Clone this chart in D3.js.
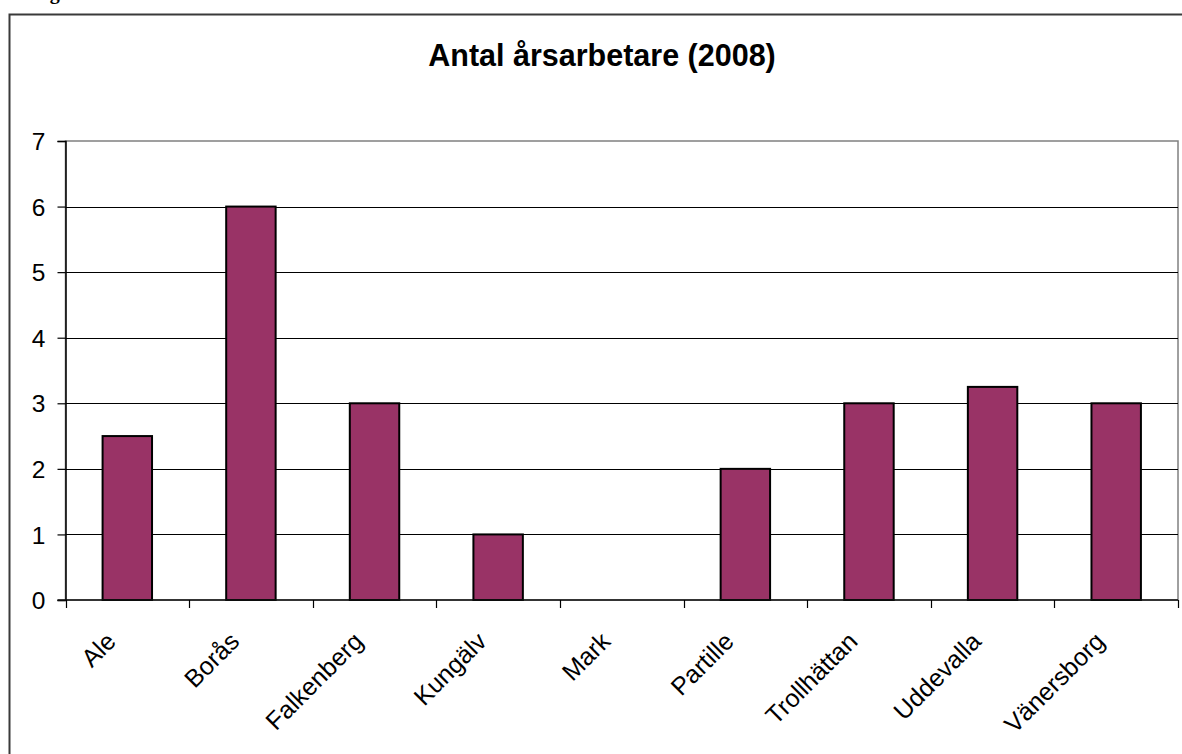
<!DOCTYPE html>
<html>
<head>
<meta charset="utf-8">
<script src="https://cdn.jsdelivr.net/npm/d3@7"></script>
<style>
  html, body { margin: 0; padding: 0; background: #fff; }
  svg { display: block; }
</style>
</head>
<body>
<svg id="chart" width="1182" height="754"></svg>
<script>
const title = "Antal årsarbetare (2008)";
const categories = ["Ale", "Borås", "Falkenberg", "Kungälv", "Mark", "Partille", "Trollhättan", "Uddevalla", "Vänersborg"];
const values = [2.5, 6, 3, 1, 0, 2, 3, 3.25, 3];
const yTicks = [0, 1, 2, 3, 4, 5, 6, 7];

const svg = d3.select("#chart");
const plot = { left: 65.5, right: 1178, top: 141, bottom: 600 };

// partial caption cut at top of page (as in the reference)
svg.append("text")
  .attr("x", 32).attr("y", -1)
  .attr("font-family", "Liberation Serif, Times New Roman, serif")
  .attr("font-weight", "bold").attr("font-size", 20)
  .attr("fill", "#000")
  .text("Fig");

// outer frame
svg.append("rect")
  .attr("x", 9.5).attr("y", 14.5)
  .attr("width", 1200).attr("height", 800)
  .attr("fill", "#fff").attr("stroke", "#3a3a3a").attr("stroke-width", 2);

const xb = d3.scaleBand().domain(categories).range([plot.left, plot.right]).padding(0);
const y = d3.scaleLinear().domain([0, 7]).range([plot.bottom, plot.top]);

// title
svg.append("text")
  .attr("x", 602).attr("y", 66)
  .attr("text-anchor", "middle")
  .attr("font-family", "Liberation Sans, Arial, sans-serif")
  .attr("font-weight", "bold").attr("font-size", 30.5)
  .text(title);

// plot area border (gray)
svg.append("rect")
  .attr("x", plot.left).attr("y", plot.top)
  .attr("width", plot.right - plot.left).attr("height", plot.bottom - plot.top)
  .attr("fill", "#fff").attr("stroke", "#808080").attr("stroke-width", 1.5);

// gridlines
svg.append("g").selectAll("line")
  .data(yTicks.filter(d => d > 0 && d < 7))
  .join("line")
  .attr("x1", plot.left).attr("x2", plot.right)
  .attr("y1", d => Math.round(y(d)) + 0.5).attr("y2", d => Math.round(y(d)) + 0.5)
  .attr("stroke", "#000").attr("stroke-width", 1);

// bars
svg.append("g").selectAll("rect")
  .data(categories.map((c, i) => ({ c, v: values[i] })).filter(d => d.v > 0))
  .join("rect")
  .attr("x", d => xb(d.c) + xb.bandwidth() / 2 - xb.bandwidth() / 5)
  .attr("width", xb.bandwidth() / 2.5)
  .attr("y", d => y(d.v))
  .attr("height", d => y(0) - y(d.v))
  .attr("fill", "#993366")
  .attr("stroke", "#000").attr("stroke-width", 2);

// y axis
const yAxis = d3.axisLeft(y).tickValues(yTicks).tickSize(8).tickPadding(12).tickFormat(d3.format("d"));
const gy = svg.append("g").attr("transform", `translate(${plot.left},0)`).call(yAxis);
gy.select(".domain").attr("stroke", "#000").attr("stroke-width", 1.5);
gy.selectAll(".tick line").attr("stroke", "#000").attr("stroke-width", 1.2);
gy.selectAll(".tick text")
  .attr("font-family", "Liberation Sans, Arial, sans-serif")
  .attr("font-size", 24.5).attr("fill", "#000")
  .attr("dy", "0.35em");

// x axis line
svg.append("line")
  .attr("x1", plot.left - 8).attr("x2", plot.right)
  .attr("y1", plot.bottom).attr("y2", plot.bottom)
  .attr("stroke", "#111").attr("stroke-width", 1.5);

// x ticks at category boundaries
const bounds = categories.map(c => xb(c)).concat([plot.right]);
svg.append("g").selectAll("line")
  .data(bounds)
  .join("line")
  .attr("x1", d => Math.round(d) + 0.5).attr("x2", d => Math.round(d) + 0.5)
  .attr("y1", plot.bottom).attr("y2", plot.bottom + 8)
  .attr("stroke", "#000").attr("stroke-width", 1.2);

// category labels rotated
svg.append("g").selectAll("text")
  .data(categories)
  .join("text")
  .attr("transform", d => `translate(${xb(d) + xb.bandwidth() / 2 - 10},${plot.bottom + 43}) rotate(-45)`)
  .attr("text-anchor", "end")
  .attr("font-family", "Liberation Sans, Arial, sans-serif")
  .attr("font-size", 25).attr("fill", "#000")
  .text(d => d);
</script>
</body>
</html>
